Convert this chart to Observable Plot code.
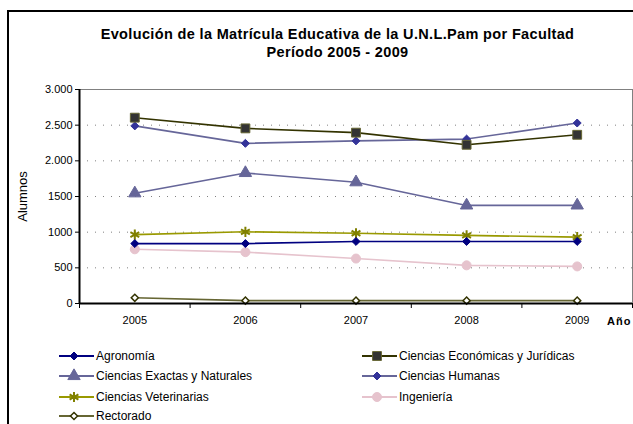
<!DOCTYPE html>
<html><head><meta charset="utf-8">
<script src="https://cdn.jsdelivr.net/npm/d3@7"></script>
<script src="https://cdn.jsdelivr.net/npm/@observablehq/plot@0.6"></script>
<style>
body{margin:0;background:#fff;font-family:"Liberation Sans",Arial,sans-serif;}
#wrap{position:relative;width:633px;height:424px;overflow:hidden;background:#fff;}
#frame{position:absolute;left:7px;top:10px;width:700px;height:500px;border-left:2px solid #000;border-top:2px solid #000;}
#title{position:absolute;left:0;width:675px;top:25px;text-align:center;font-weight:bold;font-size:14.5px;line-height:18px;letter-spacing:0.35px;color:#000;}
#chart{position:absolute;left:0;top:70px;}
#ano{position:absolute;left:607px;top:315px;font-weight:bold;font-size:11px;letter-spacing:1px;}
.leg{position:absolute;font-size:12px;display:flex;align-items:center;height:16px;white-space:nowrap;}
.leg svg{margin-right:2px;}
</style></head>
<body>
<div id="wrap">
<div id="frame"></div>
<div id="title">Evolución de la Matrícula Educativa de la U.N.L.Pam por Facultad<br>Período 2005 - 2009</div>
<div id="chart"></div>
<div id="ano">Año</div>
<div id="legend"></div>
</div>
<script>
const years = [2005, 2006, 2007, 2008, 2009];
const yTicks = [0, 500, 1000, 1500, 2000, 2500, 3000];
const yTickLabels = ["0", "500", "1000", "1500", "2.000", "2.500", "3.000"];

const names = ["Agronomía", "Ciencias Económicas y Jurídicas", "Ciencias Exactas y Naturales", "Ciencias Humanas", "Ciencias Veterinarias", "Ingeniería", "Rectorado"];
const agronomia    = [840, 840, 870, 870, 870];
const economicas   = [2605, 2455, 2395, 2225, 2365];
const exactas      = [1545, 1830, 1700, 1375, 1375];
const humanas      = [2490, 2245, 2280, 2305, 2530];
const veterinarias = [965, 1005, 985, 955, 930];
const ingenieria   = [760, 720, 630, 535, 520];
const rectorado    = [80, 40, 40, 40, 40];

const seriesValues = [agronomia, economicas, exactas, humanas, veterinarias, ingenieria, rectorado];
const styles = [
  {line:"#000080", symbol:"diamond2", fill:"#000080", stroke:"#000080", r:3.6, sw:1},
  {line:"#333300", symbol:"square", fill:"#333333", stroke:"#666633", r:5, sw:1},
  {line:"#666699", symbol:"triangle", fill:"#666699", stroke:"#666699", r:4.6, sw:1},
  {line:"#666699", symbol:"diamond2", fill:"#333399", stroke:"#333399", r:3.6, sw:1},
  {line:"#999900", symbol:"asterisk", fill:"none", stroke:"#808000", r:4.8, sw:2},
  {line:"#e6c3cd", symbol:"circle", fill:"#e6c3cd", stroke:"#e6c3cd", r:4.5, sw:1},
  {line:"#666633", symbol:"diamond2", fill:"#fff", stroke:"#333300", r:3.2, sw:1.5}
];

const rows = names.flatMap((n, k) => years.map((yr, i) => ({serie: n, k, year: yr, value: seriesValues[k][i]})));
const bounds = [2004.5, 2005.5, 2006.5, 2007.5, 2008.5, 2009.5];

const marks = [
  Plot.ruleY(yTicks.filter(v => v > 0 && v < 3000), {stroke:"#808080", strokeDasharray:"1,7", strokeWidth:1}),
  Plot.ruleY([3000], {stroke:"#808080", strokeWidth:1}),
  Plot.ruleX([2009.5], {y1:0, y2:3000, stroke:"#808080", strokeWidth:1}),
];
for (let k = names.length - 1; k >= 0; k--) {
  const s = styles[k];
  const d = rows.filter(r => r.k === k);
  marks.push(Plot.line(d, {x:"year", y:"value", stroke:s.line, strokeWidth:1.6}));
}
for (let k = names.length - 1; k >= 0; k--) {
  const s = styles[k];
  const d = rows.filter(r => r.k === k);
  marks.push(Plot.dot(d, {x:"year", y:"value", symbol:() => s.symbol, r:s.r, fill:s.fill, stroke:s.stroke, strokeWidth:s.sw}));
}
marks.push(
  Plot.ruleX([2004.5], {y1:0, y2:3000, stroke:"#000", strokeWidth:2}),
  Plot.ruleY([0], {stroke:"#000", strokeWidth:2}),
  Plot.axisY({ticks:yTicks, tickFormat:(d) => yTickLabels[yTicks.indexOf(d)], tickSize:4, tickPadding:3, label:null}),
  Plot.text(["Alumnos"], {frameAnchor:"left", textAnchor:"middle", rotate:-90, dx:-57, fontSize:13}),
  Plot.axisX({ticks:bounds, tickSize:5, tickFormat:() => "", label:null}),
  Plot.axisX({ticks:years, tickSize:0, tickPadding:13, tickFormat:d => String(d), label:null})
);

const plot = Plot.plot({
  width:633, height:265,
  marginLeft:79, marginRight:1, marginTop:19, marginBottom:32,
  x:{type:"linear", domain:[2004.5, 2009.5]},
  y:{domain:[0, 3000]},
  symbol:{type:"identity"},
  style:{fontSize:"11px", fontFamily:"'Liberation Sans', Arial, sans-serif", color:"#000", background:"transparent", overflow:"visible"},
  marks
});
document.getElementById("chart").appendChild(plot);

// legend
const legPos = [[59,348],[362,348],[59,368],[362,368],[59,389],[362,389],[59,408]];
const leg = document.getElementById("legend");
const symMap = {diamond2:d3.symbolDiamond2, square:d3.symbolSquare, triangle:d3.symbolTriangle, asterisk:d3.symbolAsterisk, circle:d3.symbolCircle};
names.forEach((n, k) => {
  const s = styles[k];
  const div = document.createElement("div");
  div.className = "leg";
  div.style.left = legPos[k][0] + "px";
  div.style.top = legPos[k][1] + "px";
  const svg = d3.create("svg").attr("width", 35).attr("height", 16);
  svg.append("line").attr("x1",0).attr("x2",35).attr("y1",8).attr("y2",8).attr("stroke", s.line).attr("stroke-width", 2.2);
  svg.append("path").attr("transform","translate(15,8)")
    .attr("d", d3.symbol(symMap[s.symbol], Math.PI * s.r * s.r)())
    .attr("fill", s.fill).attr("stroke", s.stroke).attr("stroke-width", s.sw);
  div.appendChild(svg.node());
  const t = document.createElement("span");
  t.textContent = n;
  div.appendChild(t);
  leg.appendChild(div);
});
</script>
</body></html>
